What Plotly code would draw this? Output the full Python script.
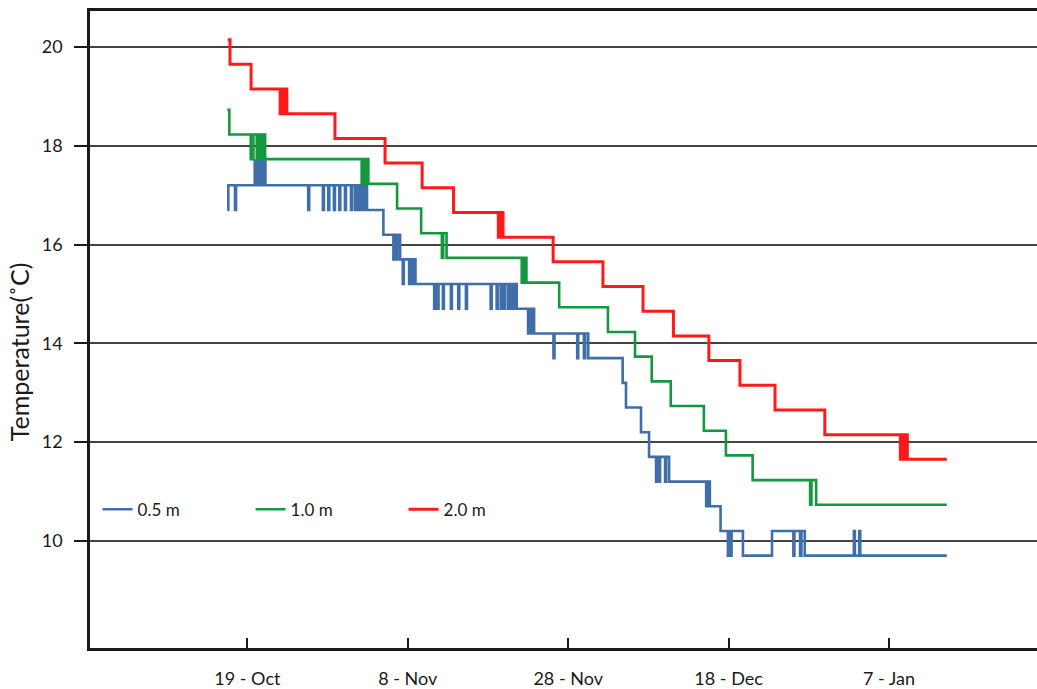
import plotly.graph_objects as go

# ---------------- data ----------------
red_time = [
    "2012-10-16 13:00", "2012-10-16 20:00", "2012-10-19 11:00",
    "2012-10-23 02:00", "2012-10-23 07:00", "2012-10-23 13:00", "2012-10-23 17:00", "2012-10-23 22:00",
    "2012-10-29 22:00", "2012-11-05 04:00", "2012-11-09 19:00", "2012-11-13 17:00",
    "2012-11-19 07:00", "2012-11-19 13:00", "2012-11-19 21:00",
    "2012-11-26 03:00", "2012-12-02 08:00", "2012-12-07 08:00", "2012-12-11 03:00",
    "2012-12-15 13:00", "2012-12-19 10:00", "2012-12-23 19:00", "2012-12-30 00:00",
    "2013-01-08 10:00", "2013-01-08 15:00", "2013-01-08 20:00", "2013-01-09 01:00", "2013-01-09 07:00",
    "2013-01-14 05:00",
]
red_temp = [
    20.15, 19.65, 19.15,
    18.65, 19.15, 18.65, 19.15, 18.65,
    18.15, 17.65, 17.15, 16.65,
    16.15, 16.65, 16.15,
    15.65, 15.15, 14.65, 14.15,
    13.65, 13.15, 12.65, 12.15,
    11.65, 12.15, 11.65, 12.15, 11.65,
    11.65,
]

green_time = [
    "2012-10-16 12:00", "2012-10-16 18:00",
    "2012-10-19 10:00", "2012-10-19 18:00",
    "2012-10-20 04:00", "2012-10-20 08:00", "2012-10-20 12:00", "2012-10-20 16:00",
    "2012-10-20 20:00", "2012-10-21 00:00", "2012-10-21 05:00",
    "2012-11-02 06:00", "2012-11-02 10:00", "2012-11-02 15:00", "2012-11-02 19:00", "2012-11-03 02:00",
    "2012-11-06 16:00", "2012-11-09 16:00",
    "2012-11-12 06:00", "2012-11-12 10:00", "2012-11-12 20:00",
    "2012-11-22 05:00", "2012-11-22 09:00", "2012-11-22 13:00", "2012-11-22 16:00", "2012-11-22 19:00",
    "2012-11-26 21:00", "2012-12-02 23:00", "2012-12-06 08:00", "2012-12-08 10:00",
    "2012-12-10 19:00", "2012-12-14 22:00", "2012-12-17 16:00", "2012-12-21 00:00",
    "2012-12-28 04:00", "2012-12-28 08:00", "2012-12-28 22:00",
    "2013-01-14 05:00",
]
green_temp = [
    18.73, 18.23,
    17.73, 18.23,
    17.73, 18.23, 17.73, 18.23,
    17.73, 18.23, 17.73,
    17.23, 17.73, 17.23, 17.73, 17.23,
    16.73, 16.23,
    15.73, 16.23, 15.73,
    15.23, 15.73, 15.23, 15.73, 15.23,
    14.73, 14.23, 13.73, 13.23,
    12.73, 12.23, 11.73, 11.23,
    10.73, 11.23, 10.73,
    10.73,
]

blue_time = [
    "2012-10-16 12:00", "2012-10-16 15:00", "2012-10-17 11:00", "2012-10-17 14:00",
    "2012-10-19 22:00", "2012-10-20 01:00", "2012-10-20 05:00", "2012-10-20 08:00",
    "2012-10-20 13:00", "2012-10-20 17:00", "2012-10-20 21:00", "2012-10-21 01:00",
    "2012-10-21 03:00", "2012-10-21 06:00",
    "2012-10-26 14:00", "2012-10-26 17:00", "2012-10-28 10:00", "2012-10-28 13:00",
    "2012-10-29 02:00", "2012-10-29 05:00", "2012-10-29 19:00", "2012-10-29 22:00",
    "2012-10-30 11:00", "2012-10-30 14:00", "2012-10-31 04:00", "2012-10-31 07:00",
    "2012-10-31 22:00", "2012-11-01 01:00",
    "2012-11-01 10:00", "2012-11-01 14:00", "2012-11-01 20:00", "2012-11-02 00:00",
    "2012-11-02 06:00", "2012-11-02 10:00", "2012-11-02 15:00", "2012-11-02 18:00",
    "2012-11-02 22:00",
    "2012-11-04 23:00",
    "2012-11-06 05:00", "2012-11-06 09:00", "2012-11-06 13:00", "2012-11-06 17:00", "2012-11-07 01:00",
    "2012-11-07 09:00", "2012-11-07 12:00",
    "2012-11-08 04:00", "2012-11-08 08:00", "2012-11-08 12:00", "2012-11-08 16:00", "2012-11-08 23:00",
    "2012-11-11 07:00", "2012-11-11 10:00", "2012-11-11 17:00", "2012-11-11 20:00",
    "2012-11-12 09:00", "2012-11-12 12:00", "2012-11-13 09:00", "2012-11-13 12:00",
    "2012-11-14 07:00", "2012-11-14 10:00", "2012-11-15 06:00", "2012-11-15 09:00",
    "2012-11-18 08:00", "2012-11-18 11:00", "2012-11-19 02:00", "2012-11-19 05:00",
    "2012-11-19 14:00", "2012-11-19 17:00", "2012-11-20 00:00", "2012-11-20 03:00",
    "2012-11-20 12:00", "2012-11-20 16:00", "2012-11-20 21:00", "2012-11-21 01:00",
    "2012-11-21 06:00", "2012-11-21 09:00", "2012-11-21 14:00",
    "2012-11-23 00:00", "2012-11-23 05:00", "2012-11-23 10:00", "2012-11-23 13:00", "2012-11-23 18:00",
    "2012-11-26 04:00", "2012-11-26 07:00", "2012-11-29 03:00", "2012-11-29 06:00",
    "2012-11-29 23:00", "2012-11-30 03:00", "2012-11-30 12:00",
    "2012-12-04 19:00", "2012-12-05 05:00", "2012-12-07 02:00", "2012-12-08 02:00",
    "2012-12-08 23:00", "2012-12-09 03:00", "2012-12-09 07:00", "2012-12-09 11:00",
    "2012-12-10 02:00", "2012-12-10 05:00", "2012-12-10 14:00",
    "2012-12-15 05:00", "2012-12-15 09:00", "2012-12-15 16:00",
    "2012-12-17 00:00",
    "2012-12-17 22:00", "2012-12-18 02:00", "2012-12-18 05:00", "2012-12-18 09:00",
    "2012-12-19 19:00", "2012-12-23 10:00",
    "2012-12-26 02:00", "2012-12-26 05:00",
    "2012-12-26 22:00", "2012-12-27 02:00", "2012-12-27 12:00",
    "2013-01-02 15:00", "2013-01-02 18:00", "2013-01-03 07:00", "2013-01-03 10:00",
    "2013-01-14 05:00",
]
blue_temp = [
    16.7, 17.2, 16.7, 17.2,
    17.7, 17.2, 17.7, 17.2,
    17.7, 17.2, 17.7, 17.2,
    17.7, 17.2,
    16.7, 17.2, 16.7, 17.2,
    16.7, 17.2, 16.7, 17.2,
    16.7, 17.2, 16.7, 17.2,
    16.7, 17.2,
    16.7, 17.2, 16.7, 17.2,
    16.7, 17.2, 16.7, 17.2,
    16.7,
    16.2,
    15.7, 16.2, 15.7, 16.2, 15.7,
    15.2, 15.7,
    15.2, 15.7, 15.2, 15.7, 15.2,
    14.7, 15.2, 14.7, 15.2,
    14.7, 15.2, 14.7, 15.2,
    14.7, 15.2, 14.7, 15.2,
    14.7, 15.2, 14.7, 15.2,
    14.7, 15.2, 14.7, 15.2,
    14.7, 15.2, 14.7, 15.2,
    14.7, 15.2, 14.7,
    14.2, 14.7, 14.2, 14.7, 14.2,
    13.7, 14.2, 13.7, 14.2,
    13.7, 14.2, 13.7,
    13.2, 12.7, 12.2, 11.7,
    11.2, 11.7, 11.2, 11.7,
    11.2, 11.7, 11.2,
    10.7, 11.2, 10.7,
    10.2,
    9.7, 10.2, 9.7, 10.2,
    9.7, 10.2,
    9.7, 10.2,
    9.7, 10.2, 9.7,
    10.2, 9.7, 10.2, 9.7,
    9.7,
]

series_names = ["0.5 m", "1.0 m", "2.0 m"]
tick_dates = ["2012-10-19", "2012-11-08", "2012-11-28", "2012-12-18", "2013-01-07"]
tick_labels = ["19 - Oct", "8 - Nov", "28 - Nov", "18 - Dec", "7 - Jan"]
y_ticks = [10, 12, 14, 16, 18, 20]
y_title = "Temperature(˚C)"

# ---------------- figure ----------------
FONT = "Lato"
INK = "#1a1a1a"
fig = go.Figure()
series = [
    (series_names[0], blue_time, blue_temp, "#3f6ea8", 2.6),
    (series_names[1], green_time, green_temp, "#13973f", 2.6),
    (series_names[2], red_time, red_temp, "#ff1a1a", 3.0),
]
for name, t, v, color, w in series:
    fig.add_trace(go.Scatter(
        x=t, y=v, mode="lines", name=name,
        line=dict(shape="hv", color=color, width=w),
    ))

fig.update_layout(
    width=1037, height=689,
    margin=dict(l=90, r=0, t=11, b=41),
    paper_bgcolor="white", plot_bgcolor="white",
    font=dict(family=FONT, size=16, color=INK),
    showlegend=True,
    legend=dict(
        orientation="h", x=0.008, y=0.217, xanchor="left", yanchor="middle",
        font=dict(family=FONT, size=17, color=INK),
        bgcolor="rgba(0,0,0,0)", entrywidth=108, entrywidthmode="pixels",
    ),
    annotations=[dict(
        text=y_title, textangle=-90, showarrow=False,
        xref="paper", yref="paper", x=-0.075, y=0.466,
        xanchor="center", yanchor="middle",
        font=dict(family=FONT, size=25, color=INK),
    )],
)
fig.update_xaxes(
    type="date",
    range=["2012-09-29 09:00", "2013-01-25 11:00"],
    tickvals=tick_dates, ticktext=tick_labels,
    ticks="inside", ticklen=10, tickwidth=2, tickcolor=INK,
    showline=True, linecolor=INK, linewidth=2.5, mirror=True,
    showgrid=False, zeroline=False,
    tickfont=dict(family=FONT, size=18, color=INK),
    ticklabelstandoff=13,
)
fig.update_yaxes(
    range=[7.83, 20.73],
    tickvals=y_ticks,
    ticks="outside", ticklen=13, tickwidth=2, tickcolor=INK,
    showline=True, linecolor=INK, linewidth=2.5,
    showgrid=True, gridcolor="#444444", gridwidth=1.5,
    zeroline=False,
    tickfont=dict(family=FONT, size=18, color=INK),
    ticklabelstandoff=8,
)

fig.write_html(
    "out.html",
    config={"displayModeBar": False},
    post_script="document.body.style.margin='0';document.body.style.overflow='hidden';",
)
